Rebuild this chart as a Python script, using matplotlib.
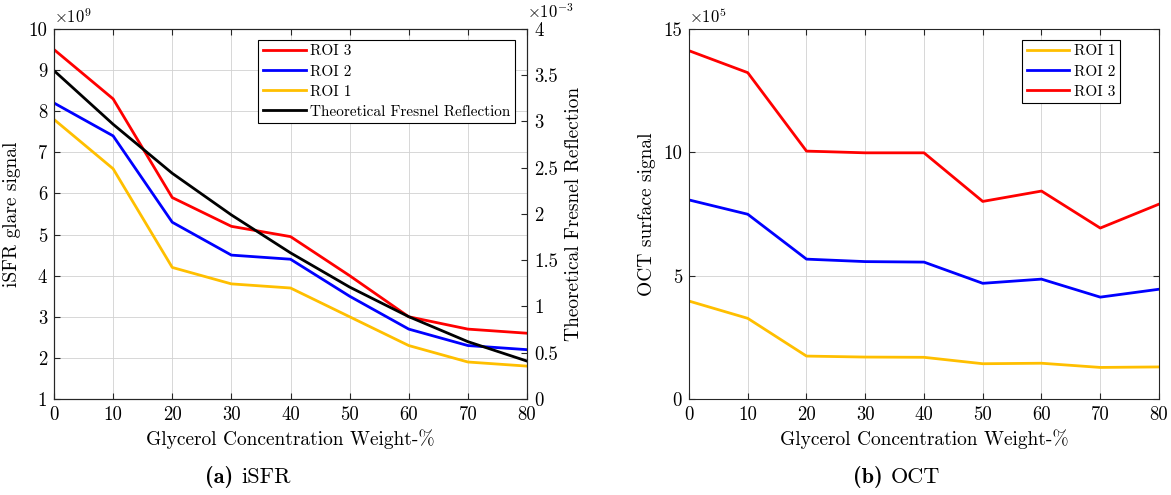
import numpy as np
import matplotlib
matplotlib.use('Agg')
from matplotlib import pyplot as plt
from matplotlib.ticker import FuncFormatter


plt.rcParams['font.family'] = 'cmr10'
plt.rcParams['mathtext.fontset'] = 'cm'
plt.rcParams['axes.unicode_minus'] = False
plt.rcParams['font.size'] = 13.5
plt.rcParams['axes.labelsize'] = 14
plt.rcParams['legend.fontsize'] = 11

glycerol = [0, 10, 20, 30, 40, 50, 60, 70, 80]

# iSFR glare signal per ROI
isfr_roi3 = [9.5e9, 8.3e9, 5.9e9, 5.2e9, 4.95e9, 4.0e9, 3.0e9, 2.7e9, 2.6e9]
isfr_roi2 = [8.2e9, 7.4e9, 5.3e9, 4.5e9, 4.4e9, 3.5e9, 2.7e9, 2.3e9, 2.2e9]
isfr_roi1 = [7.8e9, 6.6e9, 4.2e9, 3.8e9, 3.7e9, 3.0e9, 2.3e9, 1.9e9, 1.8e9]
fresnel = [3.55e-3, 2.97e-3, 2.44e-3, 1.99e-3, 1.58e-3, 1.21e-3, 0.89e-3, 0.62e-3, 0.41e-3]

# OCT surface signal per ROI
oct_roi1 = [3.97e5, 3.27e5, 1.74e5, 1.70e5, 1.69e5, 1.43e5, 1.45e5, 1.28e5, 1.30e5]
oct_roi2 = [8.07e5, 7.49e5, 5.67e5, 5.57e5, 5.55e5, 4.69e5, 4.86e5, 4.13e5, 4.45e5]
oct_roi3 = [14.12e5, 13.23e5, 10.05e5, 9.98e5, 9.98e5, 8.01e5, 8.43e5, 6.93e5, 7.90e5]

RED = (1, 0, 0)
BLUE = (0, 0, 1)
YELLOW = (1, 0.75, 0)
LW = 2.0
AXCOL = '0.15'
LEG_KW = dict(loc='upper right', fancybox=False, framealpha=1, edgecolor='k',
              borderpad=0.3, labelspacing=0.42, handlelength=2.8,
              handletextpad=0.3, borderaxespad=0.0)


def scaled(exp):
    return FuncFormatter(lambda v, p: '%g' % round(v / 10.0**exp, 6))


def style_axes(ax):
    ax.tick_params(direction='in', length=4, pad=5, colors=AXCOL,
                   labelcolor='k', top=True, right=True)
    for s in ax.spines.values():
        s.set_color(AXCOL)
        s.set_linewidth(0.8)
    ax.grid(True, color='0.82', linewidth=0.6)
    ax.set_axisbelow(True)


fig = plt.figure(figsize=(11.71, 4.95), dpi=100)

# (a) iSFR with Fresnel reflection on a second axis
ax1 = fig.add_axes([54/1171, 1-399/495, 473/1171, 370/495])
style_axes(ax1)
l3, = ax1.plot(glycerol, isfr_roi3, color=RED, lw=LW)
l2, = ax1.plot(glycerol, isfr_roi2, color=BLUE, lw=LW)
l1, = ax1.plot(glycerol, isfr_roi1, color=YELLOW, lw=LW)
ax1.set_xlim(0, 80)
ax1.set_ylim(1e9, 10e9)
ax1.set_xticks(range(0, 81, 10))
ax1.set_yticks(np.arange(1, 11) * 1e9)
ax1.yaxis.set_major_formatter(scaled(9))
ax1.tick_params(right=False)
ax1.set_xlabel('Glycerol Concentration Weight-%', labelpad=4)
ax1.set_ylabel('iSFR glare signal', labelpad=5)
ax1.text(0.0, 1.008, r'$\times10^{9}$', transform=ax1.transAxes,
         ha='left', va='bottom', fontsize=12)

ax1b = ax1.twinx()
lf, = ax1b.plot(glycerol, fresnel, color='k', lw=LW)
ax1b.set_ylim(0, 4e-3)
ax1b.set_yticks(np.arange(0, 4.01, 0.5) * 1e-3)
ax1b.yaxis.set_major_formatter(scaled(-3))
ax1b.tick_params(direction='in', length=4, pad=5, colors=AXCOL, labelcolor='k')
for s in ax1b.spines.values():
    s.set_color(AXCOL)
    s.set_linewidth(0.8)
ax1b.set_ylabel('Theoretical Fresnel Reflection', labelpad=5)
ax1b.text(1.0, 1.022, r'$\times10^{-3}$', transform=ax1b.transAxes,
          ha='left', va='bottom', fontsize=12)
leg = ax1b.legend([l3, l2, l1, lf],
                  ['ROI 3', 'ROI 2', 'ROI 1', 'Theoretical Fresnel Reflection'],
                  bbox_to_anchor=(0.975, 0.970), **LEG_KW)
leg.get_frame().set_linewidth(0.8)

# (b) OCT
ax2 = fig.add_axes([689/1171, 1-399/495, 470/1171, 370/495])
style_axes(ax2)
ax2.plot(glycerol, oct_roi1, color=YELLOW, lw=LW, label='ROI 1')
ax2.plot(glycerol, oct_roi2, color=BLUE, lw=LW, label='ROI 2')
ax2.plot(glycerol, oct_roi3, color=RED, lw=LW, label='ROI 3')
ax2.set_xlim(0, 80)
ax2.set_ylim(0, 15e5)
ax2.set_xticks(range(0, 81, 10))
ax2.set_yticks([0, 5e5, 10e5, 15e5])
ax2.yaxis.set_major_formatter(scaled(5))
ax2.set_xlabel('Glycerol Concentration Weight-%', labelpad=4)
ax2.set_ylabel('OCT surface signal', labelpad=5)
ax2.text(0.0, 1.008, r'$\times10^{5}$', transform=ax2.transAxes,
         ha='left', va='bottom', fontsize=12)
leg2 = ax2.legend(bbox_to_anchor=(0.917, 0.970), **LEG_KW)
leg2.get_frame().set_linewidth(0.8)

# subfigure captions: bold tag followed by the name
for x, tag, name in [(205, '(a)', 'iSFR'), (853, '(b)', 'OCT')]:
    t = fig.text(x/1171, 1-477/495, tag, family='cmb10', fontsize=16,
                 ha='left', va='center')
    ax1.annotate(name, xy=(1, 0.5), xycoords=t, xytext=(6, 0),
                 textcoords='offset points', family='cmr10', fontsize=16,
                 ha='left', va='center', annotation_clip=False)

fig.savefig('out.png', dpi=100)
